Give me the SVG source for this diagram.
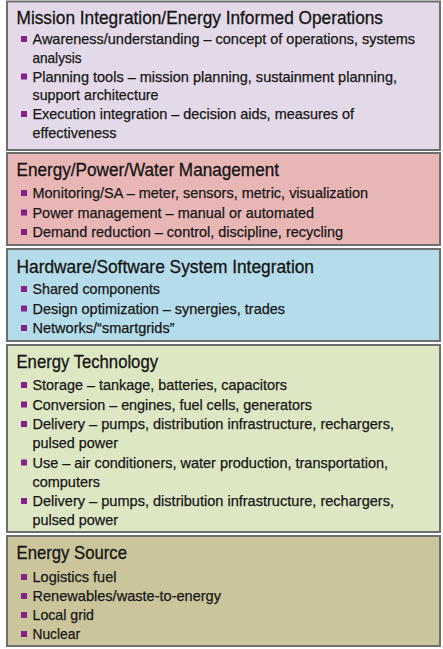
<svg xmlns="http://www.w3.org/2000/svg" width="443" height="649" viewBox="0 0 443 649">
<style>
.box{stroke:#6e6e6e;stroke-width:2}
.t{font-family:"Liberation Sans",Arial,sans-serif;font-size:18.5px;fill:#141414;stroke:#141414;stroke-width:0.3}
.b{font-family:"Liberation Sans",Arial,sans-serif;font-size:15px;fill:#161616;stroke:#161616;stroke-width:0.25}
.sq{fill:#85228a}
</style>
<defs>
<rect id="bul" class="sq" x="0" y="0" width="6" height="6"/>
</defs>
<rect width="443" height="649" fill="#ffffff"/>

<g id="mission">
<rect class="box" x="7" y="1.5" width="433" height="148.5" fill="#e3d9e8"/>
<text class="t" x="16.5" y="24" textLength="366.5" lengthAdjust="spacingAndGlyphs">Mission Integration/Energy Informed Operations</text>
<use href="#bul" x="21" y="36"/>
<text class="b" x="32.5" y="44" textLength="382.5" lengthAdjust="spacingAndGlyphs">Awareness/understanding – concept of operations, systems</text>
<text class="b" x="32.5" y="62.5" textLength="49" lengthAdjust="spacingAndGlyphs">analysis</text>
<use href="#bul" x="21" y="73.5"/>
<text class="b" x="32.5" y="81.5" textLength="364.5" lengthAdjust="spacingAndGlyphs">Planning tools – mission planning, sustainment planning,</text>
<text class="b" x="32.5" y="100" textLength="126" lengthAdjust="spacingAndGlyphs">support architecture</text>
<use href="#bul" x="21" y="111"/>
<text class="b" x="32.5" y="119" textLength="321.5" lengthAdjust="spacingAndGlyphs">Execution integration – decision aids, measures of</text>
<text class="b" x="32.5" y="137.5" textLength="84" lengthAdjust="spacingAndGlyphs">effectiveness</text>
</g>

<g id="management">
<rect class="box" x="7" y="153" width="433" height="92" fill="#e9b6b6"/>
<text class="t" x="16.5" y="176" textLength="262.5" lengthAdjust="spacingAndGlyphs">Energy/Power/Water Management</text>
<use href="#bul" x="21" y="190"/>
<text class="b" x="32.5" y="198" textLength="335.5" lengthAdjust="spacingAndGlyphs">Monitoring/SA – meter, sensors, metric, visualization</text>
<use href="#bul" x="21" y="209.5"/>
<text class="b" x="32.5" y="217.5" textLength="281.5" lengthAdjust="spacingAndGlyphs">Power management – manual or automated</text>
<use href="#bul" x="21" y="229"/>
<text class="b" x="32.5" y="237" textLength="310.5" lengthAdjust="spacingAndGlyphs">Demand reduction – control, discipline, recycling</text>
</g>

<g id="integration">
<rect class="box" x="7" y="249" width="433" height="92" fill="#b4dcea"/>
<text class="t" x="16.5" y="273" textLength="297.5" lengthAdjust="spacingAndGlyphs">Hardware/Software System Integration</text>
<use href="#bul" x="21" y="286"/>
<text class="b" x="32.5" y="294" textLength="127.5" lengthAdjust="spacingAndGlyphs">Shared components</text>
<use href="#bul" x="21" y="305.5"/>
<text class="b" x="32.5" y="313.5" textLength="252.5" lengthAdjust="spacingAndGlyphs">Design optimization – synergies, trades</text>
<use href="#bul" x="21" y="325"/>
<text class="b" x="32.5" y="333" textLength="142" lengthAdjust="spacingAndGlyphs">Networks/“smartgrids”</text>
</g>

<g id="technology">
<rect class="box" x="7" y="345" width="433" height="187" fill="#dee7c4"/>
<text class="t" x="16.5" y="368" textLength="141.5" lengthAdjust="spacingAndGlyphs">Energy Technology</text>
<use href="#bul" x="21" y="382"/>
<text class="b" x="32.5" y="390" textLength="254.5" lengthAdjust="spacingAndGlyphs">Storage – tankage, batteries, capacitors</text>
<use href="#bul" x="21" y="401.5"/>
<text class="b" x="32.5" y="409.5" textLength="279.5" lengthAdjust="spacingAndGlyphs">Conversion – engines, fuel cells, generators</text>
<use href="#bul" x="21" y="421"/>
<text class="b" x="32.5" y="429" textLength="361.5" lengthAdjust="spacingAndGlyphs">Delivery – pumps, distribution infrastructure, rechargers,</text>
<text class="b" x="32.5" y="448" textLength="85.5" lengthAdjust="spacingAndGlyphs">pulsed power</text>
<use href="#bul" x="21" y="459.5"/>
<text class="b" x="32.5" y="467.5" textLength="355.5" lengthAdjust="spacingAndGlyphs">Use – air conditioners, water production, transportation,</text>
<text class="b" x="32.5" y="487" textLength="67.5" lengthAdjust="spacingAndGlyphs">computers</text>
<use href="#bul" x="21" y="498"/>
<text class="b" x="32.5" y="506" textLength="361.5" lengthAdjust="spacingAndGlyphs">Delivery – pumps, distribution infrastructure, rechargers,</text>
<text class="b" x="32.5" y="525" textLength="85.5" lengthAdjust="spacingAndGlyphs">pulsed power</text>
</g>

<g id="source">
<rect class="box" x="7" y="536" width="433" height="110" fill="#cbc59c"/>
<text class="t" x="16.5" y="559" textLength="110.5" lengthAdjust="spacingAndGlyphs">Energy Source</text>
<use href="#bul" x="21" y="574"/>
<text class="b" x="32.5" y="582" textLength="84" lengthAdjust="spacingAndGlyphs">Logistics fuel</text>
<use href="#bul" x="21" y="593"/>
<text class="b" x="32.5" y="601" textLength="188.5" lengthAdjust="spacingAndGlyphs">Renewables/waste-to-energy</text>
<use href="#bul" x="21" y="612"/>
<text class="b" x="32.5" y="620" textLength="61.5" lengthAdjust="spacingAndGlyphs">Local grid</text>
<use href="#bul" x="21" y="631"/>
<text class="b" x="32.5" y="639" textLength="47.5" lengthAdjust="spacingAndGlyphs">Nuclear</text>
</g>

<g id="connectors"></g>
</svg>
